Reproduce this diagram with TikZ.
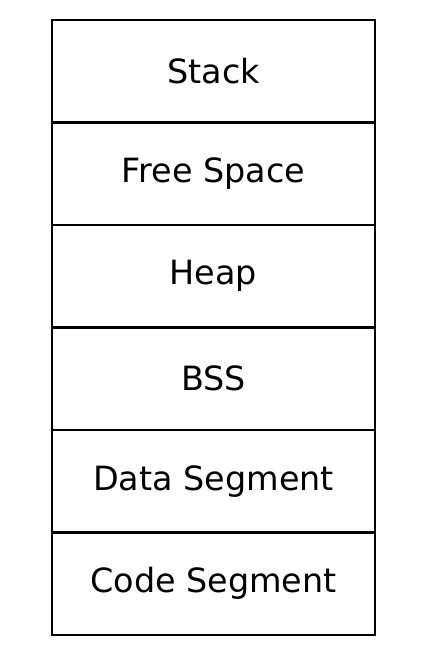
\documentclass[tikz,border=0pt]{standalone}
\usepackage{fontspec}
\setmainfont{DejaVu Sans}
\usepackage{tikz}
\usetikzlibrary{positioning}

\begin{document}
\begin{tikzpicture}[
                node distance=0pt,
                every node/.style={
                        draw,
                        line width=2.2pt,
                        outer sep=0pt,
                        minimum width=323pt,
                        minimum height=102.5pt,
                        font=\fontsize{33.4}{40}\selectfont,
                        align=center
                    }
            ]

            % Margins of the picture
            \useasboundingbox (0,0) rectangle (427pt,656pt);

            % Memory segments, top to bottom
            \node (stack) at (213.5pt,584.75pt) {Stack};
            \node[below=of stack] (free) {Free Space};
            \node[below=of free] (heap) {Heap};
            \node[below=of heap] (bss) {BSS};
            \node[below=of bss] (data) {Data Segment};
            \node[below=of data] (code) {Code Segment};

        \end{tikzpicture}
\end{document}
